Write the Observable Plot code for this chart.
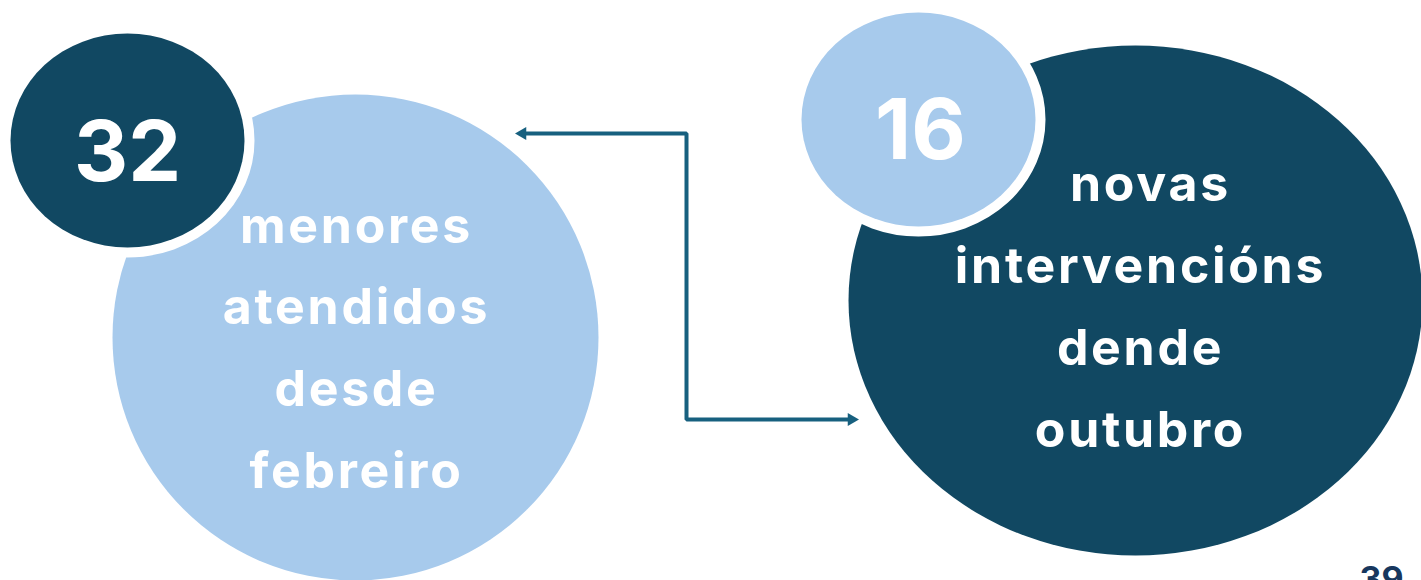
<!DOCTYPE html>
<html>
<head>
<meta charset="utf-8">
<script src="https://cdn.jsdelivr.net/npm/d3@7"></script>
<script src="https://cdn.jsdelivr.net/npm/@observablehq/plot@0.6"></script>
<style>
  html, body { margin: 0; padding: 0; background: #ffffff; }
  #chart svg { display: block; }
</style>
</head>
<body>
<div id="chart"></div>
<script>
// ---- data ----
const counts = [32, 16];
const labelsLeft = ["menores", "atendidos", "desde", "febreiro"];
const labelsRight = ["novas", "intervencións", "dende", "outubro"];
const pageNumber = "39";

// ---- layout (pixel space) ----
const W = 1421, H = 580;
const DARK = "#114862", LIGHT = "#a7caec", ARROW = "#17607f";

const bubbles = [
  {cx: 355, cy: 337, rx: 243, ry: 243, fill: LIGHT, ring: 0},
  {cx: 127, cy: 140, rx: 117, ry: 107, fill: DARK, ring: 20},
  {cx: 1135, cy: 300, rx: 287, ry: 255, fill: DARK, ring: 0},
  {cx: 918, cy: 119, rx: 117, ry: 107, fill: LIGHT, ring: 20}
];

const numberPos = [
  {x: 127, y: 180, fill: "#ffffff"},
  {x: 920, y: 158, fill: "#ffffff"}
];
const numberRows = counts.map((v, i) => ({text: String(v), ...numberPos[i]}));

const rightLineX = [1150, 1140, 1140, 1140];
const leftRows = labelsLeft.map((t, i) => ({text: t, x: 356, y: 242 + i * 81.7}));
const rightRows = labelsRight.map((t, i) => ({text: t, x: rightLineX[i], y: 200 + i * 82}));

const arrowPath = [
  {x: 851, y: 419}, {x: 686, y: 419}, {x: 686, y: 133}, {x: 523, y: 133}
];
const arrowHeads = [
  {x: 522, y: 133, rotate: -90},
  {x: 851, y: 419, rotate: 90}
];

const plot = Plot.plot({
  width: W,
  height: H,
  margin: 0,
  x: {domain: [0, W], range: [0, W], axis: null},
  y: {domain: [0, H], range: [0, H], axis: null},
  r: {type: "identity"},
  style: {fontFamily: "Inter, 'Noto Sans', sans-serif", background: "#ffffff"},
  marks: [
    Plot.dot(bubbles, {
      x: "cx", y: "cy", r: "rx", fill: "fill", sort: null,
      stroke: "#ffffff", strokeWidth: "ring", paintOrder: "stroke"
    }),
    Plot.line(arrowPath, {x: "x", y: "y", stroke: ARROW, strokeWidth: 4, curve: "linear", strokeLinejoin: "miter"}),
    Plot.dot(arrowHeads, {x: "x", y: "y", symbol: "triangle2", r: 6.2, fill: ARROW, rotate: "rotate"}),
    Plot.text(leftRows, {x: "x", y: "y", text: "text", fill: "#ffffff", fontSize: 50, fontWeight: 700, lineAnchor: "bottom", textAnchor: "middle"}),
    Plot.text(rightRows, {x: "x", y: "y", text: "text", fill: "#ffffff", fontSize: 50, fontWeight: 700, lineAnchor: "bottom", textAnchor: "middle"}),
    Plot.text(numberRows, {x: "x", y: "y", text: "text", fill: "fill", fontSize: 84, fontWeight: 700, lineAnchor: "bottom", textAnchor: "middle"}),
    Plot.text([{text: pageNumber, x: 1381, y: 590}], {x: "x", y: "y", text: "text", fill: "#17375e", fontSize: 34, fontWeight: 700, lineAnchor: "bottom", textAnchor: "middle"})
  ]
});

// turn circles into ellipses (scale vertically about each center)
const firstDotGroup = Array.from(plot.querySelectorAll("g")).find(g => g.children.length === bubbles.length && g.querySelector("circle"));
if (firstDotGroup) {
  Array.from(firstDotGroup.children).forEach(el => {
    const cx = +el.getAttribute("cx"), cy = +el.getAttribute("cy"), r = +el.getAttribute("r");
    const b = bubbles.reduce((best, d) => (Math.abs(d.cx - cx) + Math.abs(d.cy - cy) + Math.abs(d.rx - r)) <
      (Math.abs(best.cx - cx) + Math.abs(best.cy - cy) + Math.abs(best.rx - r)) ? d : best);
    const k = b.ry / b.rx;
    const prev = el.getAttribute("transform") || "";
    el.setAttribute("transform", `translate(${b.cx},${b.cy}) scale(1,${k}) translate(${-b.cx},${-b.cy}) ${prev}`);
    el.setAttribute("vector-effect", "non-scaling-stroke");
  });
}
const labelSet = new Set([...labelsLeft, ...labelsRight]);
plot.querySelectorAll("text").forEach(t => {
  if (labelSet.has(t.textContent)) t.setAttribute("letter-spacing", "2.7px");
});

document.getElementById("chart").appendChild(plot);
</script>
</body>
</html>
